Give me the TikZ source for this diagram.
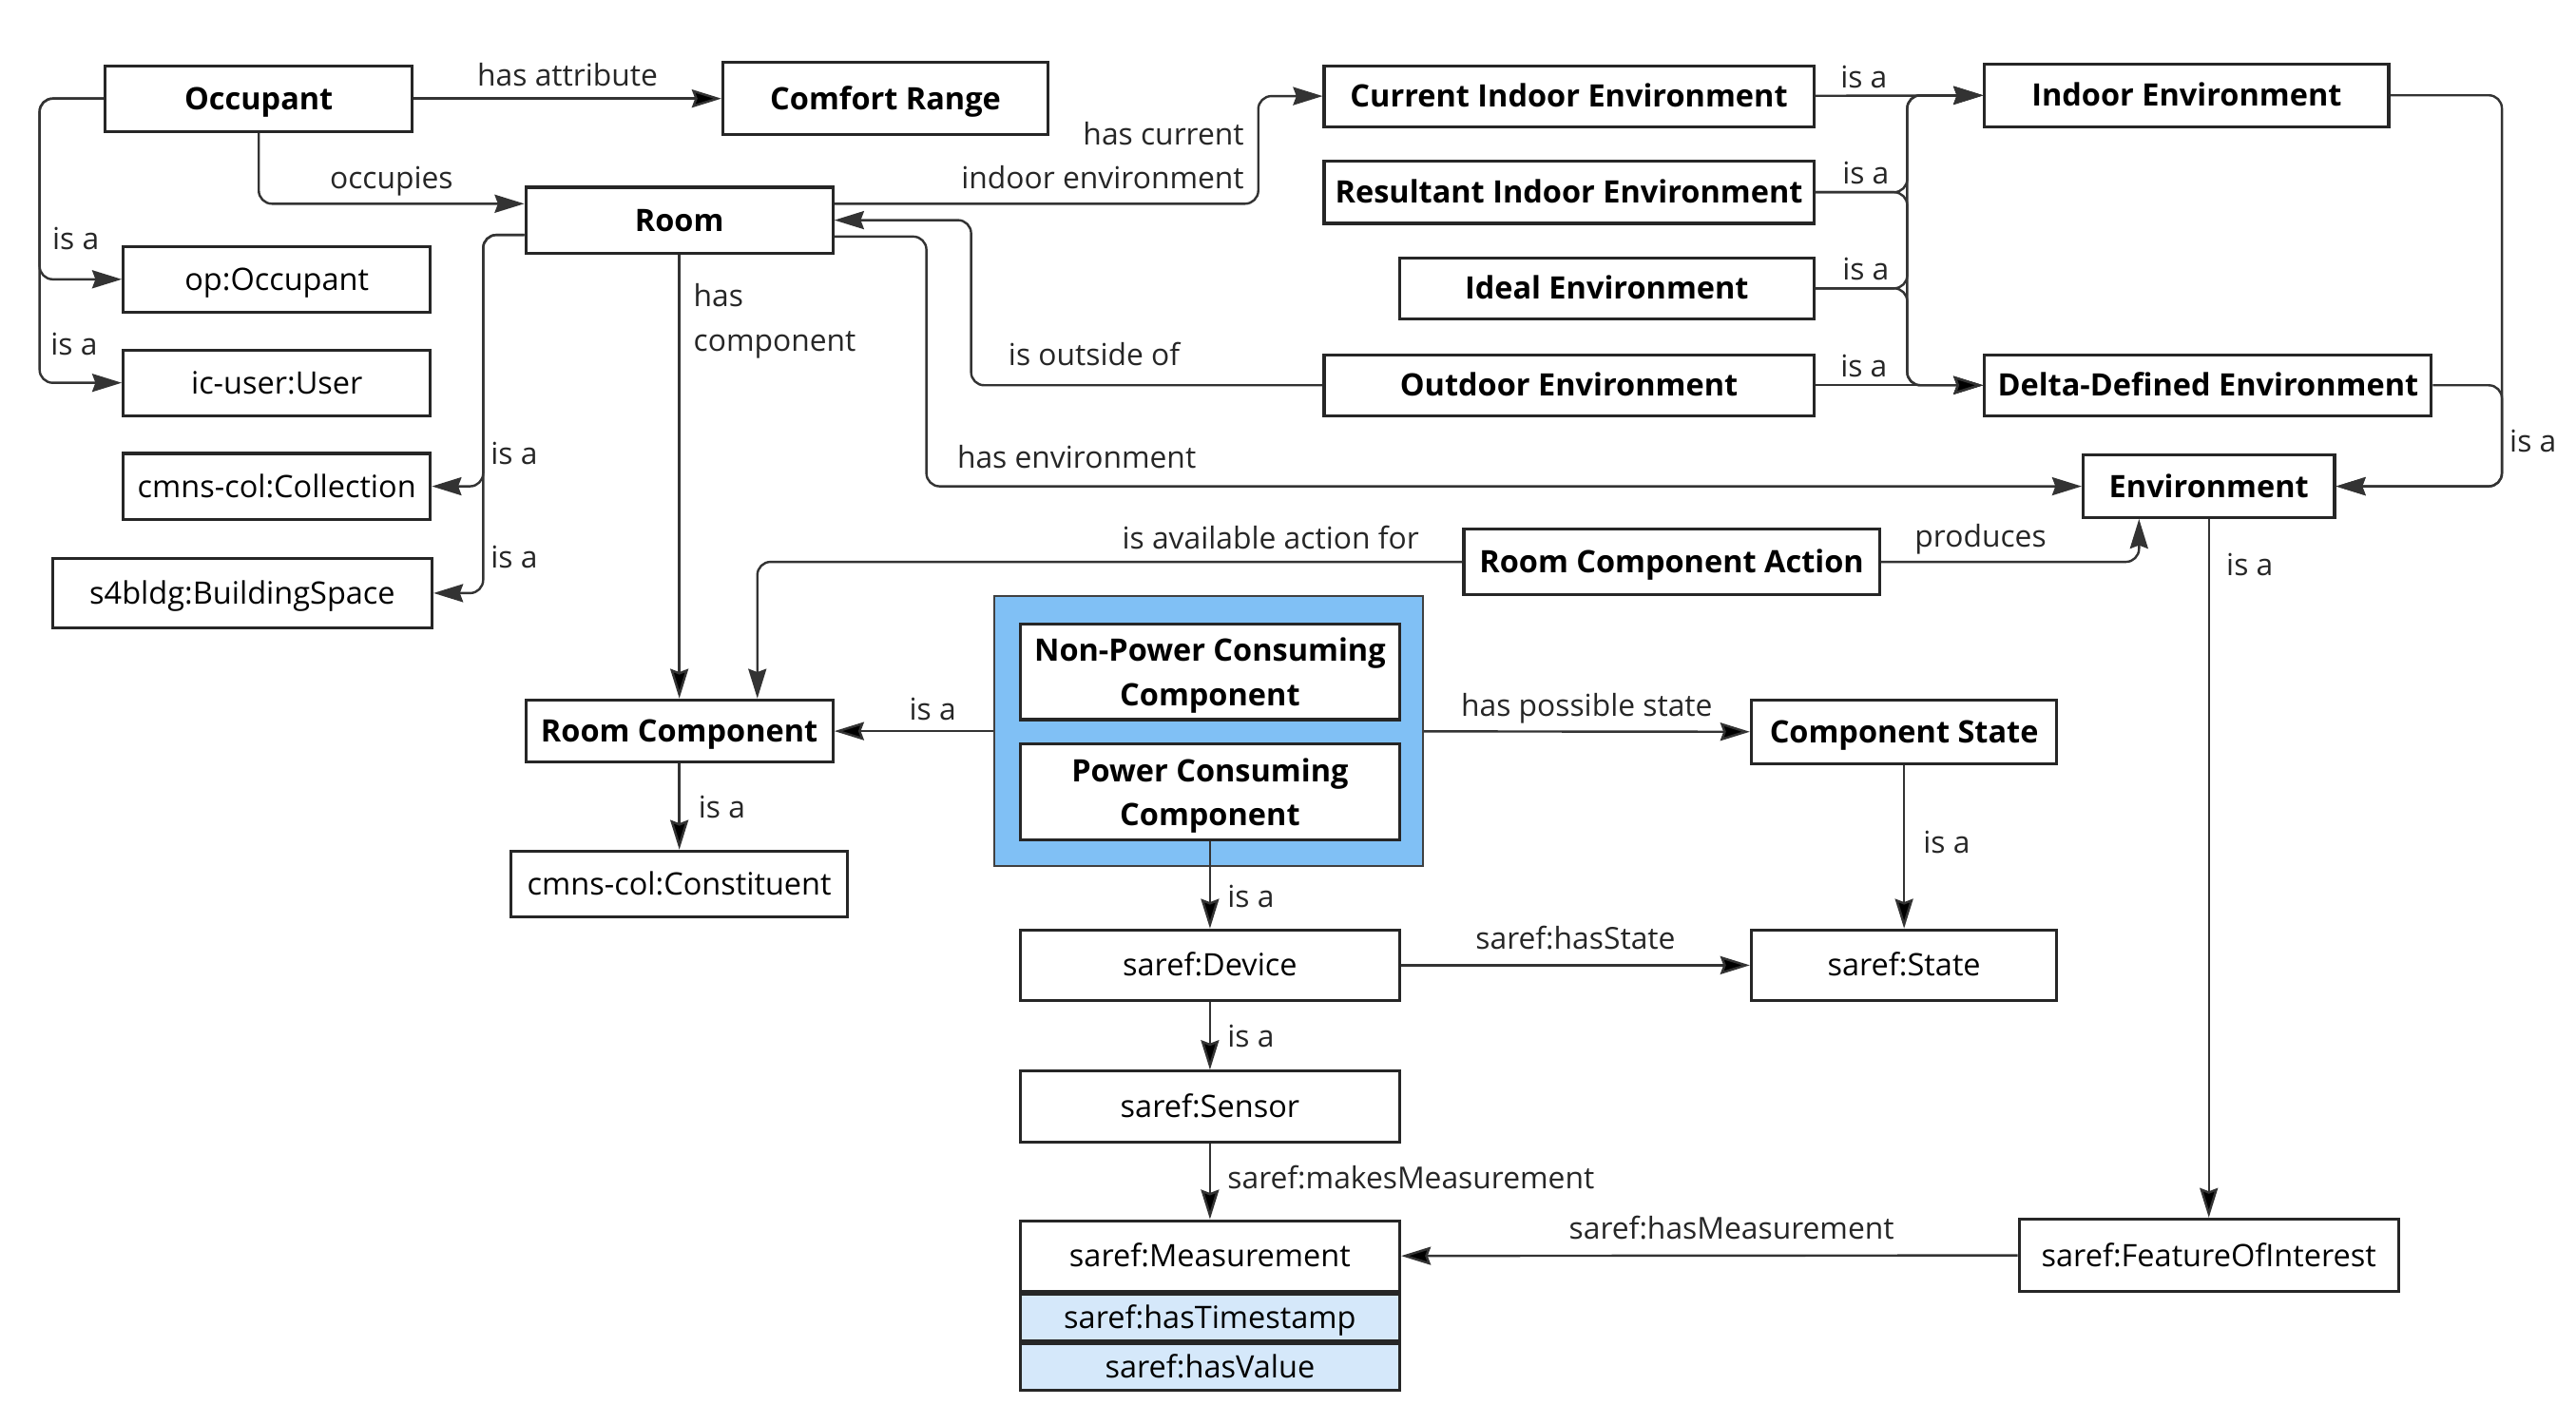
\documentclass[tikz,border=0pt]{standalone}
\usepackage{fontspec}
\setmainfont{Open Sans}
\usetikzlibrary{arrows.meta}
\definecolor{linegray}{HTML}{333333}
\definecolor{groupblue}{HTML}{80C0F5}
\definecolor{rowblue}{HTML}{D5E8FA}
\tikzstyle{cls}=[draw=black!85,line width=0.9pt,fill=white,inner sep=0pt,align=center,text height=6.7pt,text depth=0pt,font=\bfseries\fontsize{9.4}{13.5}\selectfont]
\tikzstyle{ext}=[draw=black!85,line width=0.9pt,fill=white,inner sep=0pt,align=center,text height=6.7pt,text depth=0pt,font=\fontsize{9.4}{13.5}\selectfont]
\tikzstyle{multi}=[cls,text height=,text depth=0pt]
\tikzstyle{lbl}=[text=black!85,inner sep=2pt,font=\fontsize{9.2}{13.5}\selectfont]
\tikzstyle{arr}=[draw=linegray,line width=0.7pt,rounded corners=4pt,-{Stealth[length=9pt,width=5.5pt,inset=1pt]}]

\begin{document}
\begin{tikzpicture}[x=0.5pt,y=-0.5pt]
  \useasboundingbox (0,0) rectangle (1568,855);
  % classes, left part
  \node(occ)[cls,minimum width=93.5pt,minimum height=20pt] at (157.5,60) {Occupant};
  \node(comf)[cls,minimum width=99pt,minimum height=22pt] at (539,60) {Comfort Range};
  \node(room)[cls,minimum width=93.5pt,minimum height=20pt] at (413.5,134) {Room};
  \node(opocc)[ext,minimum width=93.5pt,minimum height=20pt] at (168.5,170) {op:Occupant};
  \node(user)[ext,minimum width=93.5pt,minimum height=20pt] at (168.5,233) {ic-user:User};
  \node(coll)[ext,minimum width=93.5pt,minimum height=20pt] at (168.5,296) {cmns-col:Collection};
  \node(bldg)[ext,minimum width=115.5pt,minimum height=21pt] at (147.5,361) {s4bldg:BuildingSpace};
  % environments
  \node(cur)[cls,minimum width=149pt,minimum height=18.5pt] at (955,58.5) {Current Indoor Environment};
  \node(res)[cls,minimum width=149pt,minimum height=19pt] at (955,117) {Resultant Indoor Environment};
  \node(ideal)[cls,minimum width=126pt,minimum height=18.5pt] at (978,175.5) {Ideal Environment};
  \node(out)[cls,minimum width=149pt,minimum height=18.5pt] at (955,234.5) {Outdoor Environment};
  \node(ind)[cls,minimum width=123pt,minimum height=19pt] at (1331,58) {Indoor Environment};
  \node(delta)[cls,minimum width=136pt,minimum height=18.5pt] at (1344,234.5) {Delta-Defined Environment};
  \node(env)[cls,minimum width=76.5pt,minimum height=19pt] at (1344.5,296) {Environment};
  \node(rca)[cls,minimum width=126.5pt,minimum height=20pt] at (1017.5,342) {Room Component Action};
  % components
  \node(cont)[draw=black!75,line width=0.6pt,fill=groupblue,minimum width=130.5pt,minimum height=82pt] at (735.5,445) {};
  \node(npc)[multi,minimum width=115.5pt,minimum height=29pt] at (736.5,409) {Non-Power Consuming\\Component};
  \node(pcc)[multi,minimum width=115.5pt,minimum height=29pt] at (736.5,482) {Power Consuming\\Component};
  \node(rc)[cls,minimum width=93.5pt,minimum height=19pt] at (413.5,445) {Room Component};
  \node(cons)[ext,minimum width=102.5pt,minimum height=20pt] at (413.5,538) {cmns-col:Constituent};
  \node(cs)[cls,minimum width=93pt,minimum height=19.5pt] at (1159,445.5) {Component State};
  % saref
  \node(dev)[ext,minimum width=115.5pt,minimum height=21.5pt] at (736.5,587.5) {saref:Device};
  \node(state)[ext,minimum width=93pt,minimum height=21.5pt] at (1159,587.5) {saref:State};
  \node(sens)[ext,minimum width=115.5pt,minimum height=21.5pt] at (736.5,673.5) {saref:Sensor};
  \node(meas)[ext,minimum width=115.5pt,minimum height=21.5pt] at (736.5,764.5) {saref:Measurement};
  \node(ts)[ext,fill=rowblue,minimum width=115.5pt,minimum height=14pt] at (736.5,802) {saref:hasTimestamp};
  \node(val)[ext,fill=rowblue,minimum width=115.5pt,minimum height=14pt] at (736.5,832) {saref:hasValue};
  \node(foi)[ext,minimum width=115.5pt,minimum height=22pt] at (1344.5,764) {saref:FeatureOfInterest};

  \path[arr] (occ) edge node[lbl,above=1.5pt]{has attribute} (comf);
  \draw[arr] (occ.south) |- node[lbl,pos=0.75,above]{occupies} ([yshift=5pt]room.west);
  \draw[arr] (occ.west) -- ++(-39,0) |- node[lbl,pos=0.72,above=6.5pt]{is a} (opocc.west);
  \draw[arr] (occ.west) -- ++(-39,0) |- node[lbl,pos=0.71,above=6pt]{is a} (user.west);
  \draw[arr] ([yshift=5pt]room.east) -- ++(258,0)
    node[lbl,anchor=south east,align=right,xshift=-2pt,yshift=2pt]{has current\\indoor environment} |- (cur.west);
  \draw[arr] (out.west) -- node[lbl,pos=0.65,above=3.5pt]{is outside of} ++(-214,0) |- (room.east);
  \draw[arr] ([yshift=-5pt]room.east) -- ++(56,0) |- node[lbl,pos=0.565,above=3pt]{has environment} (env.west);
  \draw[arr] ([yshift=-4.5pt]room.west) -- ++(-25,0) |- node[lbl,pos=0.435,right]{is a} (coll.east);
  \draw[arr] ([yshift=-4.5pt]room.west) -- ++(-25,0) |- node[lbl,pos=0.45,right]{is a} (bldg.east);
  \path[arr] (room) edge node[lbl,pos=0,anchor=north west,align=left,xshift=2pt,yshift=-6.5pt]{has\\component} (rc);
  \draw[arr] (rca.west) -| node[lbl,pos=0.136,above=1.5pt]{is available action for} ([xshift=23.75pt]rc.north);
  \draw[arr] (rca.east) -| node[lbl,pos=0.193,above]{produces} ([xshift=-21.25pt]env.south);
  \path[arr] (env) edge node[lbl,pos=0.066,right,xshift=3pt]{is a} (foi);
  % is a links into indoor / delta-defined
  \path[arr] (cur) edge node[lbl,pos=0.29,above]{is a} (ind);
  \draw[arr] (res.east) -- node[lbl,pos=0.55,above]{is a} ++(56,0) |- (ind.west);
  \draw[arr] (res.east) -- ++(56,0) |- (delta.west);
  \draw[arr] (ideal.east) -- node[lbl,pos=0.55,above]{is a} ++(56,0) |- (ind.west);
  \draw[arr] (ideal.east) -- ++(56,0) |- (delta.west);
  \path[arr] (out) edge node[lbl,pos=0.29,above]{is a} (delta);
  \draw[arr] (ind.east) -- ++(68,0) |- (env.east);
  \draw[arr] (delta.east) -- ++(42,0) |- node[lbl,pos=0.274,right]{is a} (env.east);
  % components and saref
  \path[arr] (cont) edge node[lbl,above]{has possible state} (cs);
  \path[arr] (cont) edge node[lbl,pos=0.38,above=1pt]{is a} (rc);
  \path[arr] (rc) edge node[lbl,right,xshift=3.5pt]{is a} (cons);
  \path[arr] (pcc) edge node[lbl,pos=0.63,right,xshift=3pt]{is a} (dev);
  \path[arr] (dev) edge node[lbl,above=2.5pt]{saref:hasState} (state);
  \path[arr] (cs) edge node[lbl,pos=0.47,right,xshift=3.5pt]{is a} (state);
  \path[arr] (dev) edge node[lbl,right,xshift=3pt]{is a} (sens);
  \path[arr] (sens) edge node[lbl,pos=0.45,right,xshift=3pt]{saref:makesMeasurement} (meas);
  \path[arr] (foi) edge node[lbl,pos=0.464,above=2.5pt]{saref:hasMeasurement} (meas);
 \end{tikzpicture}
\end{document}
